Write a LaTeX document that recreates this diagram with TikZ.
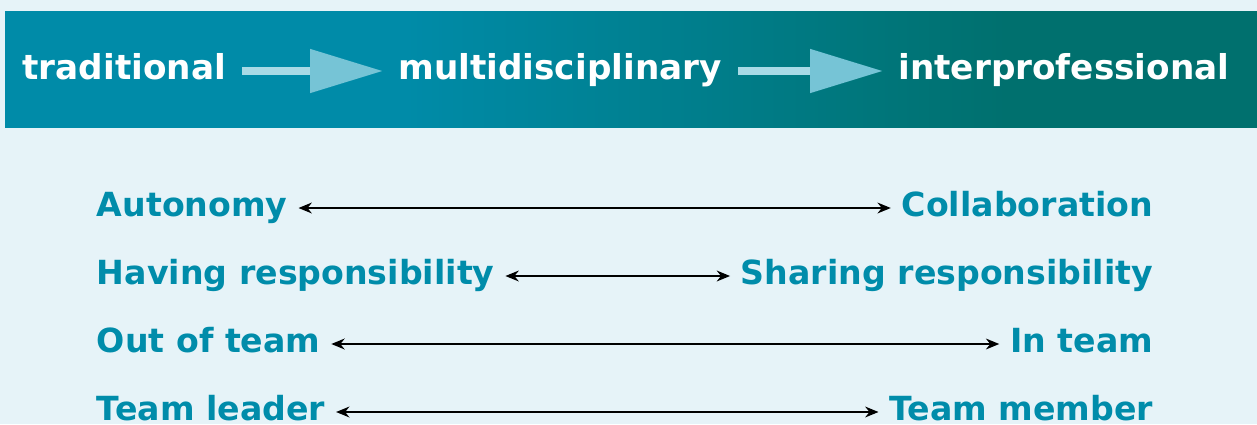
\documentclass[tikz,border=0pt]{standalone}
\usepackage{fontspec}
\setmainfont{DejaVu Sans}
\usetikzlibrary{arrows.meta}

\definecolor{teamBackground}{RGB}{230,243,248}
\definecolor{teamBannerLeft}{RGB}{0,139,168}
\definecolor{teamBannerRight}{RGB}{0,112,110}
\definecolor{teamArrowShaft}{RGB}{168,218,230}
\definecolor{teamArrowHead}{RGB}{118,196,214}
\definecolor{teamText}{RGB}{0,140,170}
\pgfdeclarehorizontalshading{teamBanner}{100bp}{color(0bp)=(teamBannerLeft);
  color(41bp)=(teamBannerLeft); color(65bp)=(teamBannerRight);
  color(100bp)=(teamBannerRight)}

\begin{document}
\begin{tikzpicture}[x=.02cm,y=.02cm,
      stage/.style={font=\fontsize{19.5}{21}\selectfont\bfseries,
        text=white, inner sep=0pt, text height=10pt, text depth=0pt,
        anchor=west},
      pole/.style={font=\fontsize{18.9}{21}\selectfont\bfseries,
        text=teamText, inner ysep=0pt, inner xsep=6pt, text height=10pt,
        text depth=0pt},
      progress/.style={draw=teamArrowShaft, line width=.16cm,
        shorten <=.32cm, shorten >=.30cm,
        -{Triangle[length=1.46cm, width=.84cm, color=teamArrowHead,
          fill=teamArrowHead]}},
      pull/.style={draw=black, line width=.85pt,
        {Stealth[length=7.6pt, width=6.2pt]}-{Stealth[length=7.6pt, width=6.2pt]}}]
      \useasboundingbox (0,0) rectangle (1257,424);
      \fill[teamBackground] (0,0) rectangle (1257,424);

      % banner with the three stages
      \shade[shading=teamBanner] (5,297) rectangle (1257,413);
      \node[stage] (trad) at (22,353) {traditional};
      \node[stage] (multi) at (398,353) {multidisciplinary};
      \node[stage] (inter) at (898,353) {interprofessional};
      \draw[progress] (trad.east) -- (multi.west);
      \draw[progress] (multi.east) -- (inter.west);

      % the four pulls between two poles
      \foreach \l/\r [count=\i] in {Autonomy/Collaboration,
          Having responsibility/Sharing responsibility,
          Out of team/In team, Team leader/Team member}{
        \node[pole, anchor=west] (left\i) at (86,{284-68*\i}) {\l};
        \node[pole, anchor=east] (right\i) at (1164,{284-68*\i}) {\r};
        \draw[pull] (left\i) -- (right\i);}
    \end{tikzpicture}
\end{document}
